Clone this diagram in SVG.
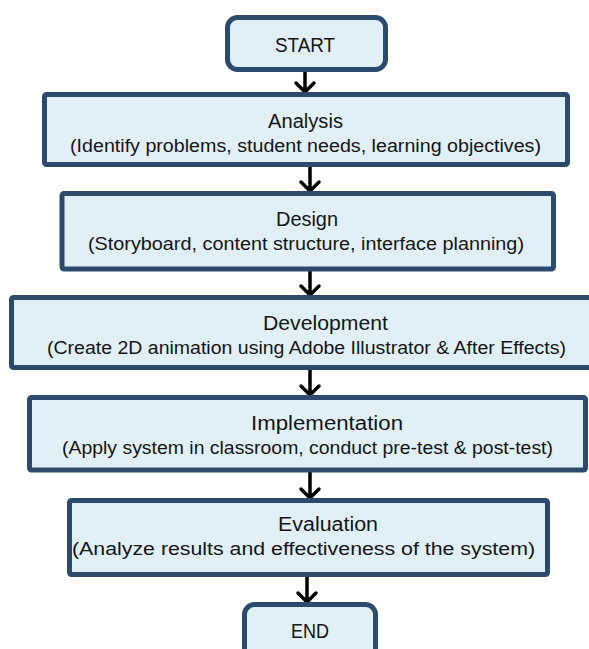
<svg xmlns="http://www.w3.org/2000/svg" width="589" height="649" viewBox="0 0 589 649">
  <style>
    .box { fill: #e1f0f7; stroke: #2c4a6e; stroke-width: 5; }
    .title { font-family: "Liberation Sans", Arial, sans-serif; font-size: 19.5px; fill: #141414; text-anchor: middle; }
    .sub { font-family: "Liberation Sans", Arial, sans-serif; font-size: 17.5px; fill: #141414; text-anchor: middle; }
    .arrow { fill: none; stroke: #000; stroke-width: 3.5; stroke-linecap: round; stroke-linejoin: round; }
  </style>
  <rect width="589" height="649" fill="#ffffff"/>

  <g id="connectors">
    <path class="arrow" d="M305 72 V92 M296 83 L305 92 L314 83"/>
    <path class="arrow" d="M310 167 V191 M301 182 L310 191 L319 182"/>
    <path class="arrow" d="M310 271 V295 M301 286 L310 295 L319 286"/>
    <path class="arrow" d="M310 370 V395 M301 386 L310 395 L319 386"/>
    <path class="arrow" d="M310 472 V498 M301 489 L310 498 L319 489"/>
    <path class="arrow" d="M307 577 V602 M298 593 L307 602 L316 593"/>
  </g>

  <g id="start">
    <rect class="box" x="227.5" y="17.5" width="158" height="52" rx="10"/>
    <text class="title" x="305" y="52" textLength="60" lengthAdjust="spacingAndGlyphs">START</text>
  </g>

  <g id="analysis">
    <rect class="box" x="44.5" y="94.5" width="523" height="70" rx="2"/>
    <text class="title" x="305.5" y="128" textLength="75" lengthAdjust="spacingAndGlyphs">Analysis</text>
    <text class="sub" x="305.5" y="152" textLength="471" lengthAdjust="spacingAndGlyphs">(Identify problems, student needs, learning objectives)</text>
  </g>

  <g id="design">
    <rect class="box" x="62" y="193.5" width="491.5" height="75.5" rx="2"/>
    <text class="title" x="307" y="226" textLength="62" lengthAdjust="spacingAndGlyphs">Design</text>
    <text class="sub" x="306" y="250" textLength="436" lengthAdjust="spacingAndGlyphs">(Storyboard, content structure, interface planning)</text>
  </g>

  <g id="development">
    <rect class="box" x="11.5" y="297.5" width="600" height="70" rx="2"/>
    <text class="title" x="325.5" y="330" textLength="125" lengthAdjust="spacingAndGlyphs">Development</text>
    <text class="sub" x="306.5" y="354" textLength="519" lengthAdjust="spacingAndGlyphs">(Create 2D animation using Adobe Illustrator &amp; After Effects)</text>
  </g>

  <g id="implementation">
    <rect class="box" x="29.5" y="397.5" width="556" height="72.5" rx="2"/>
    <text class="title" x="327" y="430" textLength="152" lengthAdjust="spacingAndGlyphs">Implementation</text>
    <text class="sub" x="307.5" y="454" textLength="491" lengthAdjust="spacingAndGlyphs">(Apply system in classroom, conduct pre-test &amp; post-test)</text>
  </g>

  <g id="evaluation">
    <rect class="box" x="69.5" y="500.5" width="478" height="74" rx="2"/>
    <text class="title" x="328" y="531" textLength="100" lengthAdjust="spacingAndGlyphs">Evaluation</text>
    <text class="sub" x="303.5" y="555" textLength="463" lengthAdjust="spacingAndGlyphs">(Analyze results and effectiveness of the system)</text>
  </g>

  <g id="end">
    <rect class="box" x="244.5" y="604.5" width="131" height="60" rx="10"/>
    <text class="title" x="310" y="638" textLength="38" lengthAdjust="spacingAndGlyphs">END</text>
  </g>
</svg>
